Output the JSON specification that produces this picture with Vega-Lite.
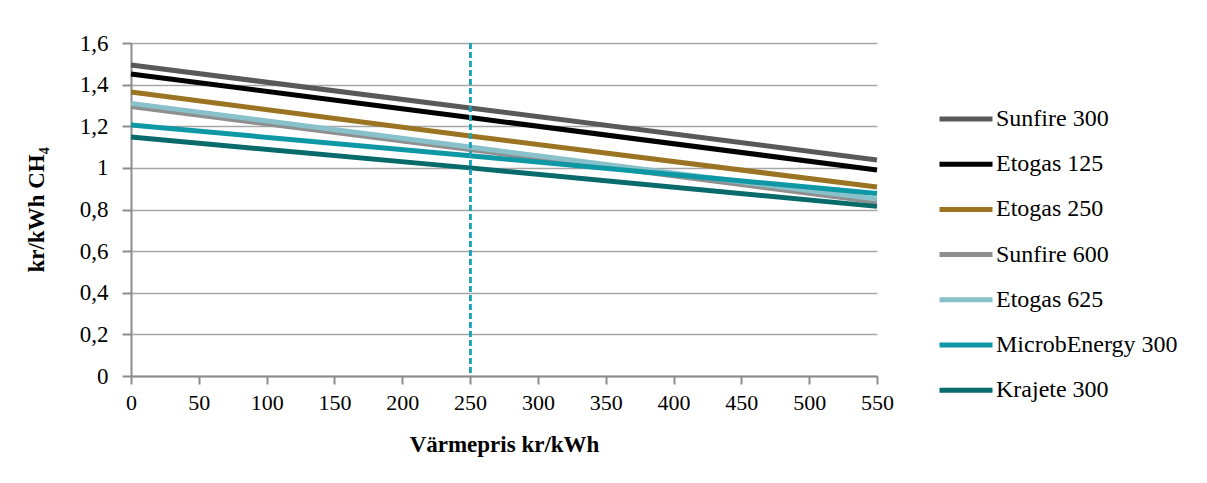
{
  "$schema": "https://vega.github.io/schema/vega-lite/v6.json",
  "width": 746,
  "height": 333,
  "autosize": {"type": "none"},
  "padding": {"left": 131, "top": 43, "right": 330, "bottom": 107},
  "background": "white",
  "config": {
    "font": "Liberation Serif",
    "view": {"stroke": null},
    "axis": {
      "labelFont": "Liberation Serif",
      "titleFont": "Liberation Serif",
      "labelColor": "#000000",
      "titleColor": "#000000",
      "domainColor": "#8c8c8c",
      "tickColor": "#8c8c8c",
      "gridColor": "#a6a6a6",
      "domainWidth": 2,
      "tickWidth": 2
    }
  },
  "data": {
    "values": [
      {"s": "Sunfire 600", "x": 0, "y": 1.295},
      {"s": "Sunfire 600", "x": 250, "y": 1.088},
      {"s": "Sunfire 600", "x": 550, "y": 0.836},
      {"s": "Etogas 625", "x": 0, "y": 1.31},
      {"s": "Etogas 625", "x": 250, "y": 1.10},
      {"s": "Etogas 625", "x": 550, "y": 0.85},
      {"s": "Krajete 300", "x": 0, "y": 1.148},
      {"s": "Krajete 300", "x": 250, "y": 1.0},
      {"s": "Krajete 300", "x": 550, "y": 0.815},
      {"s": "MicrobEnergy 300", "x": 0, "y": 1.206},
      {"s": "MicrobEnergy 300", "x": 250, "y": 1.058},
      {"s": "MicrobEnergy 300", "x": 550, "y": 0.877},
      {"s": "Etogas 250", "x": 0, "y": 1.365},
      {"s": "Etogas 250", "x": 250, "y": 1.153},
      {"s": "Etogas 250", "x": 550, "y": 0.908},
      {"s": "Etogas 125", "x": 0, "y": 1.451},
      {"s": "Etogas 125", "x": 250, "y": 1.242},
      {"s": "Etogas 125", "x": 550, "y": 0.99},
      {"s": "Sunfire 300", "x": 0, "y": 1.494},
      {"s": "Sunfire 300", "x": 250, "y": 1.288},
      {"s": "Sunfire 300", "x": 550, "y": 1.038}
    ]
  },
  "layer": [
    {
      "mark": {"type": "line", "strokeWidth": 5, "strokeCap": "butt"},
      "encoding": {
        "x": {
          "field": "x",
          "type": "quantitative",
          "scale": {"domain": [0, 550], "nice": false},
          "axis": {
            "values": [0, 50, 100, 150, 200, 250, 300, 350, 400, 450, 500, 550],
            "grid": false,
            "title": "Värmepris kr/kWh",
            "titleFontSize": 23,
            "titleFontWeight": "bold",
            "titlePadding": 20,
            "labelFontSize": 22,
            "labelPadding": 8,
            "tickSize": 8,
            "labelFlush": false
          }
        },
        "y": {
          "field": "y",
          "type": "quantitative",
          "scale": {"domain": [0, 1.6], "nice": false},
          "axis": {
            "values": [0, 0.2, 0.4, 0.6, 0.8, 1, 1.2, 1.4, 1.6],
            "labelExpr": "replace(format(datum.value, '.1~f'), '.', ',')",
            "grid": true,
            "gridWidth": 1.5,
            "title": "kr/kWh CH₄",
            "titleFontSize": 23,
            "titleFontWeight": "bold",
            "titlePadding": 31,
            "labelFontSize": 23,
            "labelPadding": 14,
            "tickSize": 9
          }
        },
        "color": {
          "field": "s",
          "type": "nominal",
          "scale": {
            "domain": ["Sunfire 300", "Etogas 125", "Etogas 250", "Sunfire 600", "Etogas 625", "MicrobEnergy 300", "Krajete 300"],
            "range": ["#595959", "#000000", "#9a7422", "#8f8f8f", "#88c1ca", "#0e97a4", "#086a6a"]
          },
          "legend": {
            "title": null,
            "orient": "none",
            "legendX": 806,
            "legendY": 47,
            "symbolType": "stroke",
            "symbolSize": 2809,
            "symbolStrokeWidth": 5,
            "labelFont": "Liberation Serif",
            "labelFontSize": 24,
            "labelColor": "#000000",
            "labelOffset": 1,
            "labelLimit": 400,
            "rowPadding": 4.2
          }
        },
        "order": {"value": 0}
      }
    },
    {
      "mark": {"type": "rule", "color": "#1ba5b8", "strokeWidth": 2, "strokeDash": [6, 3]},
      "encoding": {
        "x": {"datum": 250, "type": "quantitative"}
      }
    }
  ]
}
